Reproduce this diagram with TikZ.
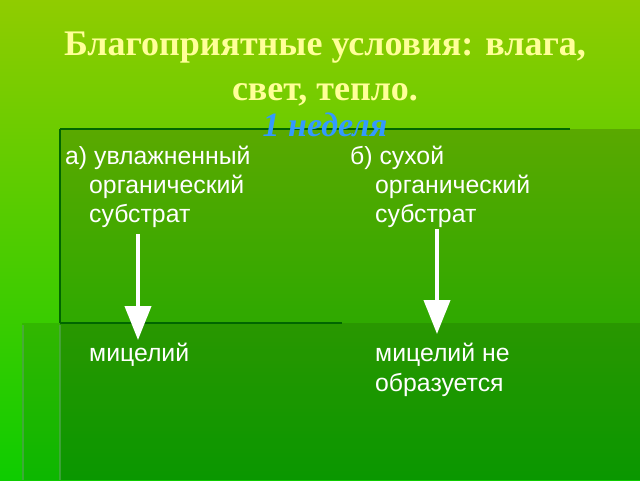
\documentclass[tikz,border=0pt]{standalone}
\usepackage{fontspec}
\setmainfont{Liberation Serif}
\newfontfamily\arialf{Liberation Sans}
\usetikzlibrary{arrows.meta}
\definecolor{bgtop}{HTML}{90CC00}
\definecolor{bgbot}{HTML}{0ECC00}
\definecolor{titlecol}{HTML}{FFFF99}
\definecolor{weekcol}{HTML}{3399FF}
\definecolor{edgecol}{HTML}{006600}
\begin{document}
\begin{tikzpicture}[x=1pt,y=-1pt,
  titletext/.style={font=\fontsize{36}{36}\selectfont\bfseries, text=titlecol, inner sep=0pt, anchor=base},
  weektext/.style={font=\fontsize{34}{34}\selectfont\bfseries\itshape, text=weekcol, inner sep=0pt, anchor=base},
  bodytext/.style={font=\arialf\fontsize{24.8}{24.8}\selectfont, text=white, inner sep=0pt, anchor=base west},
  flow/.style={white, line width=4pt, -{Triangle[width=26pt,length=34pt]}},
  edgeline/.style={edgecol, line width=2.5pt},
  greyline/.style={gray!70!green, line width=1.5pt, opacity=0.6}]
\useasboundingbox (0,0) rectangle (640,480);
\shade[top color=bgtop, bottom color=bgbot] (0,0) rectangle (640,480);
% panels
\fill[black, opacity=0.17] (60,129) rectangle (640,480);
\fill[black, opacity=0.10] (22,323) rectangle (640,480);
\draw[edgeline] (60,129) -- (570,129);
\draw[edgeline] (60,129) -- (60,323);
\draw[edgeline] (60,323) -- (342,323);
\draw[greyline] (60,325) -- (60,480);
\draw[greyline] (23,325) -- (23,480);
% title
\node[titletext] (t1) at (325,55) {Благоприятные условия: влага,};
\node[titletext] (t2) at (325,100) {свет, тепло.};
\node[weektext] (wk) at (325,136) {1 неделя};
% left column
\node[bodytext] (a1) at (65,164) {а) увлажненный};
\node[bodytext] (a2) at (89,193) {органический};
\node[bodytext] (a3) at (89,222) {субстрат};
\node[bodytext] (a4) at (89,361) {мицелий};
% right column
\node[bodytext] (b1) at (350,164) {б) сухой};
\node[bodytext] (b2) at (375,193) {органический};
\node[bodytext] (b3) at (375,222) {субстрат};
\node[bodytext] (b4) at (375,361) {мицелий не};
\node[bodytext] (b5) at (375,391) {образуется};
% arrows
\coordinate (as) at (138,234);
\coordinate (ae) at (138,340);
\coordinate (bs) at (437,229);
\coordinate (be) at (437,334);
\draw[flow] (as) -- (ae);
\draw[flow] (bs) -- (be);
\end{tikzpicture}
\end{document}
